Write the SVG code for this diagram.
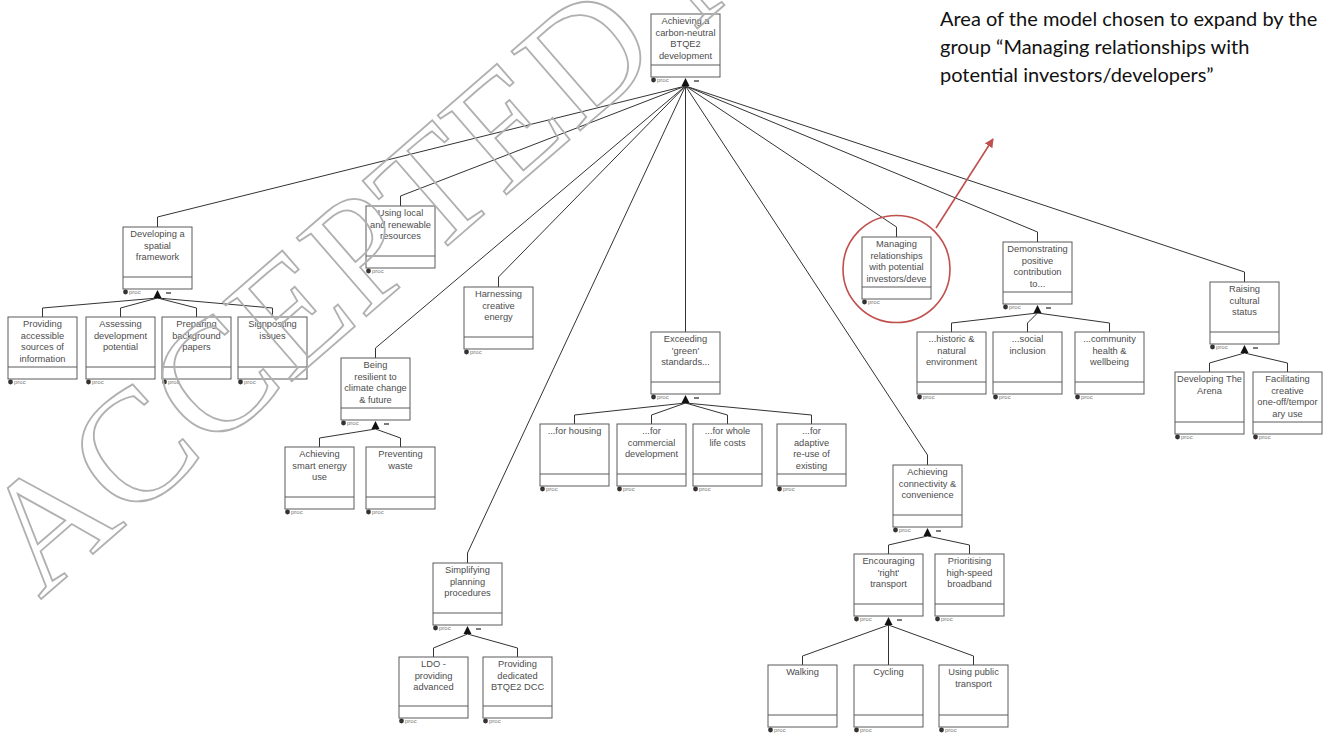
<svg xmlns="http://www.w3.org/2000/svg" width="1324" height="738" viewBox="0 0 1324 738">
  <style>
    .box{fill:#fff;stroke:#5a5a5a;stroke-width:1}
    .sep{stroke:#5a5a5a;stroke-width:1}
    .lbl{font-family:"Liberation Sans",Arial,sans-serif;font-size:9.3px;fill:#4d4d4d;text-anchor:middle}
    .proc{font-family:"Liberation Sans",Arial,sans-serif;font-size:6px;fill:#777}
    .pin{fill:#333}
    .tri{fill:#111}
    .dash{stroke:#222;stroke-width:1.2}
    .conn path{fill:none;stroke:#333;stroke-width:1}
    .note{font-family:Lato,"Liberation Sans",sans-serif;font-size:20px;fill:#111}
    .mark{font-family:"Liberation Serif","Times New Roman",serif;font-size:160px;fill:none;stroke:#b0b0b0;stroke-width:1.8}
  </style>
  <defs>
    <marker id="redHead" viewBox="0 0 10 10" refX="9" refY="5" markerWidth="9" markerHeight="9" markerUnits="userSpaceOnUse" orient="auto">
      <path d="M0 0 L10 5 L0 10 Z" fill="#c0504d"/>
    </marker>
  </defs>
  <rect width="1324" height="738" fill="#fff"/>

  <!-- connectors -->
  <g id="connectors" class="conn">
    <!-- root fan -->
    <path d="M685.5 86 L157.5 217 V227"/>
    <path d="M685.5 86 L400.5 196 V206"/>
    <path d="M685.5 86 L498.5 277 V287"/>
    <path d="M685.5 86 L375.5 348 V358"/>
    <path d="M685.5 86 L467.5 553 V563"/>
    <path d="M685.5 86 V332"/>
    <path d="M685.5 86 L927.5 455 V465"/>
    <path d="M685.5 86 L896.5 227 V237"/>
    <path d="M685.5 86 L1037.5 232 V242"/>
    <path d="M685.5 86 L1244.5 272 V282"/>
    <!-- spatial framework -->
    <path d="M157.5 298 L42.5 308 V317"/>
    <path d="M157.5 298 L120.5 308 V317"/>
    <path d="M157.5 298 L196.5 308 V317"/>
    <path d="M157.5 298 L272.5 308 V317"/>
    <!-- resilience -->
    <path d="M375.5 429 L319.5 438 V447"/>
    <path d="M375.5 429 L400.5 438 V447"/>
    <!-- planning -->
    <path d="M467.5 634 L433.5 648 V657"/>
    <path d="M467.5 634 L517.5 648 V657"/>
    <!-- green standards -->
    <path d="M685.5 403 L574.5 415 V424"/>
    <path d="M685.5 403 L651.5 415 V424"/>
    <path d="M685.5 403 L727.5 415 V424"/>
    <path d="M685.5 403 L811.5 415 V424"/>
    <!-- connectivity -->
    <path d="M927.5 536 L888.5 545 V554"/>
    <path d="M927.5 536 L969.5 545 V554"/>
    <!-- right transport -->
    <path d="M888.5 625 L802.5 656 V665"/>
    <path d="M888.5 625 V665"/>
    <path d="M888.5 625 L973.5 656 V665"/>
    <!-- positive contribution -->
    <path d="M1037.5 313 L951.5 323 V332"/>
    <path d="M1037.5 313 L1027.5 323 V332"/>
    <path d="M1037.5 313 L1109.5 323 V332"/>
    <!-- cultural status -->
    <path d="M1244.5 353 L1209.5 363 V372"/>
    <path d="M1244.5 353 L1287.5 363 V372"/>
  </g>

  <!-- nodes -->
  <g id="n-root" transform="translate(651,14)">
    <rect class="box" width="69" height="63"/><line class="sep" x1="0" y1="51" x2="69" y2="51"/>
    <text class="lbl" y="10"><tspan x="34.5">Achieving a</tspan><tspan x="34.5" dy="11.6">carbon-neutral</tspan><tspan x="34.5" dy="11.6">BTQE2</tspan><tspan x="34.5" dy="11.6">development</tspan></text>
    <circle class="pin" cx="2.5" cy="66" r="2.4"/><text class="proc" x="6" y="68">proc</text>
    <path class="tri" d="M34.5 64 L30.5 72 L38.5 72 Z"/><line class="dash" x1="43" y1="67" x2="48" y2="67"/>
  </g>

  <g id="n-spatial" transform="translate(123,227)">
    <rect class="box" width="69" height="62"/><line class="sep" x1="0" y1="50" x2="69" y2="50"/>
    <text class="lbl" y="10"><tspan x="34.5">Developing a</tspan><tspan x="34.5" dy="11.6">spatial</tspan><tspan x="34.5" dy="11.6">framework</tspan></text>
    <circle class="pin" cx="2.5" cy="65" r="2.4"/><text class="proc" x="6" y="67">proc</text>
    <path class="tri" d="M34.5 63 L30.5 71 L38.5 71 Z"/><line class="dash" x1="43" y1="66" x2="48" y2="66"/>
  </g>
  <g id="n-information" transform="translate(8,317)">
    <rect class="box" width="69" height="62"/><line class="sep" x1="0" y1="50" x2="69" y2="50"/>
    <text class="lbl" y="10"><tspan x="34.5">Providing</tspan><tspan x="34.5" dy="11.6">accessible</tspan><tspan x="34.5" dy="11.6">sources of</tspan><tspan x="34.5" dy="11.6">information</tspan></text>
    <circle class="pin" cx="2.5" cy="65" r="2.4"/><text class="proc" x="6" y="67">proc</text>
  </g>
  <g id="n-assess" transform="translate(86,317)">
    <rect class="box" width="69" height="62"/><line class="sep" x1="0" y1="50" x2="69" y2="50"/>
    <text class="lbl" y="10"><tspan x="34.5">Assessing</tspan><tspan x="34.5" dy="11.6">development</tspan><tspan x="34.5" dy="11.6">potential</tspan></text>
    <circle class="pin" cx="2.5" cy="65" r="2.4"/><text class="proc" x="6" y="67">proc</text>
  </g>
  <g id="n-papers" transform="translate(162,317)">
    <rect class="box" width="69" height="62"/><line class="sep" x1="0" y1="50" x2="69" y2="50"/>
    <text class="lbl" y="10"><tspan x="34.5">Preparing</tspan><tspan x="34.5" dy="11.6">background</tspan><tspan x="34.5" dy="11.6">papers</tspan></text>
    <circle class="pin" cx="2.5" cy="65" r="2.4"/><text class="proc" x="6" y="67">proc</text>
  </g>
  <g id="n-signpost" transform="translate(238,317)">
    <rect class="box" width="69" height="62"/><line class="sep" x1="0" y1="50" x2="69" y2="50"/>
    <text class="lbl" y="10"><tspan x="34.5">Signposting</tspan><tspan x="34.5" dy="11.6">issues</tspan></text>
    <circle class="pin" cx="2.5" cy="65" r="2.4"/><text class="proc" x="6" y="67">proc</text>
  </g>

  <g id="n-local" transform="translate(366,206)">
    <rect class="box" width="69" height="62"/><line class="sep" x1="0" y1="50" x2="69" y2="50"/>
    <text class="lbl" y="10"><tspan x="34.5">Using local</tspan><tspan x="34.5" dy="11.6">and renewable</tspan><tspan x="34.5" dy="11.6">resources</tspan></text>
    <circle class="pin" cx="2.5" cy="65" r="2.4"/><text class="proc" x="6" y="67">proc</text>
  </g>
  <g id="n-creative" transform="translate(464,287)">
    <rect class="box" width="69" height="62"/><line class="sep" x1="0" y1="50" x2="69" y2="50"/>
    <text class="lbl" y="10"><tspan x="34.5">Harnessing</tspan><tspan x="34.5" dy="11.6">creative</tspan><tspan x="34.5" dy="11.6">energy</tspan></text>
    <circle class="pin" cx="2.5" cy="65" r="2.4"/><text class="proc" x="6" y="67">proc</text>
  </g>

  <g id="n-resilient" transform="translate(341,358)">
    <rect class="box" width="69" height="62"/><line class="sep" x1="0" y1="50" x2="69" y2="50"/>
    <text class="lbl" y="10"><tspan x="34.5">Being</tspan><tspan x="34.5" dy="11.6">resilient to</tspan><tspan x="34.5" dy="11.6">climate change</tspan><tspan x="34.5" dy="11.6">&amp; future</tspan></text>
    <circle class="pin" cx="2.5" cy="65" r="2.4"/><text class="proc" x="6" y="67">proc</text>
    <path class="tri" d="M34.5 63 L30.5 71 L38.5 71 Z"/><line class="dash" x1="43" y1="66" x2="48" y2="66"/>
  </g>
  <g id="n-smart" transform="translate(285,447)">
    <rect class="box" width="69" height="62"/><line class="sep" x1="0" y1="50" x2="69" y2="50"/>
    <text class="lbl" y="10"><tspan x="34.5">Achieving</tspan><tspan x="34.5" dy="11.6">smart energy</tspan><tspan x="34.5" dy="11.6">use</tspan></text>
    <circle class="pin" cx="2.5" cy="65" r="2.4"/><text class="proc" x="6" y="67">proc</text>
  </g>
  <g id="n-waste" transform="translate(366,447)">
    <rect class="box" width="69" height="62"/><line class="sep" x1="0" y1="50" x2="69" y2="50"/>
    <text class="lbl" y="10"><tspan x="34.5">Preventing</tspan><tspan x="34.5" dy="11.6">waste</tspan></text>
    <circle class="pin" cx="2.5" cy="65" r="2.4"/><text class="proc" x="6" y="67">proc</text>
  </g>

  <g id="n-planning" transform="translate(433,563)">
    <rect class="box" width="69" height="62"/><line class="sep" x1="0" y1="50" x2="69" y2="50"/>
    <text class="lbl" y="10"><tspan x="34.5">Simplifying</tspan><tspan x="34.5" dy="11.6">planning</tspan><tspan x="34.5" dy="11.6">procedures</tspan></text>
    <circle class="pin" cx="2.5" cy="65" r="2.4"/><text class="proc" x="6" y="67">proc</text>
    <path class="tri" d="M34.5 63 L30.5 71 L38.5 71 Z"/><line class="dash" x1="43" y1="66" x2="48" y2="66"/>
  </g>
  <g id="n-ldo" transform="translate(399,657)">
    <rect class="box" width="69" height="61"/><line class="sep" x1="0" y1="49" x2="69" y2="49"/>
    <text class="lbl" y="10"><tspan x="34.5">LDO -</tspan><tspan x="34.5" dy="11.6">providing</tspan><tspan x="34.5" dy="11.6">advanced</tspan></text>
    <circle class="pin" cx="2.5" cy="64" r="2.4"/><text class="proc" x="6" y="66">proc</text>
  </g>
  <g id="n-dcc" transform="translate(483,657)">
    <rect class="box" width="69" height="61"/><line class="sep" x1="0" y1="49" x2="69" y2="49"/>
    <text class="lbl" y="10"><tspan x="34.5">Providing</tspan><tspan x="34.5" dy="11.6">dedicated</tspan><tspan x="34.5" dy="11.6">BTQE2 DCC</tspan></text>
    <circle class="pin" cx="2.5" cy="64" r="2.4"/><text class="proc" x="6" y="66">proc</text>
  </g>

  <g id="n-green" transform="translate(651,332)">
    <rect class="box" width="69" height="62"/><line class="sep" x1="0" y1="50" x2="69" y2="50"/>
    <text class="lbl" y="10"><tspan x="34.5">Exceeding</tspan><tspan x="34.5" dy="11.6">'green'</tspan><tspan x="34.5" dy="11.6">standards...</tspan></text>
    <circle class="pin" cx="2.5" cy="65" r="2.4"/><text class="proc" x="6" y="67">proc</text>
    <path class="tri" d="M34.5 63 L30.5 71 L38.5 71 Z"/><line class="dash" x1="43" y1="66" x2="48" y2="66"/>
  </g>
  <g id="n-housing" transform="translate(540,424)">
    <rect class="box" width="69" height="62"/><line class="sep" x1="0" y1="50" x2="69" y2="50"/>
    <text class="lbl" y="10"><tspan x="34.5">...for housing</tspan></text>
    <circle class="pin" cx="2.5" cy="65" r="2.4"/><text class="proc" x="6" y="67">proc</text>
  </g>
  <g id="n-commercial" transform="translate(617,424)">
    <rect class="box" width="69" height="62"/><line class="sep" x1="0" y1="50" x2="69" y2="50"/>
    <text class="lbl" y="10"><tspan x="34.5">...for</tspan><tspan x="34.5" dy="11.6">commercial</tspan><tspan x="34.5" dy="11.6">development</tspan></text>
    <circle class="pin" cx="2.5" cy="65" r="2.4"/><text class="proc" x="6" y="67">proc</text>
  </g>
  <g id="n-lifecost" transform="translate(693,424)">
    <rect class="box" width="69" height="62"/><line class="sep" x1="0" y1="50" x2="69" y2="50"/>
    <text class="lbl" y="10"><tspan x="34.5">...for whole</tspan><tspan x="34.5" dy="11.6">life costs</tspan></text>
    <circle class="pin" cx="2.5" cy="65" r="2.4"/><text class="proc" x="6" y="67">proc</text>
  </g>
  <g id="n-reuse" transform="translate(777,424)">
    <rect class="box" width="69" height="62"/><line class="sep" x1="0" y1="50" x2="69" y2="50"/>
    <text class="lbl" y="10"><tspan x="34.5">...for</tspan><tspan x="34.5" dy="11.6">adaptive</tspan><tspan x="34.5" dy="11.6">re-use of</tspan><tspan x="34.5" dy="11.6">existing</tspan></text>
    <circle class="pin" cx="2.5" cy="65" r="2.4"/><text class="proc" x="6" y="67">proc</text>
  </g>

  <g id="n-connect" transform="translate(893,465)">
    <rect class="box" width="69" height="62"/><line class="sep" x1="0" y1="50" x2="69" y2="50"/>
    <text class="lbl" y="10"><tspan x="34.5">Achieving</tspan><tspan x="34.5" dy="11.6">connectivity &amp;</tspan><tspan x="34.5" dy="11.6">convenience</tspan></text>
    <circle class="pin" cx="2.5" cy="65" r="2.4"/><text class="proc" x="6" y="67">proc</text>
    <path class="tri" d="M34.5 63 L30.5 71 L38.5 71 Z"/><line class="dash" x1="43" y1="66" x2="48" y2="66"/>
  </g>
  <g id="n-right" transform="translate(854,554)">
    <rect class="box" width="69" height="62"/><line class="sep" x1="0" y1="50" x2="69" y2="50"/>
    <text class="lbl" y="10"><tspan x="34.5">Encouraging</tspan><tspan x="34.5" dy="11.6">'right'</tspan><tspan x="34.5" dy="11.6">transport</tspan></text>
    <circle class="pin" cx="2.5" cy="65" r="2.4"/><text class="proc" x="6" y="67">proc</text>
    <path class="tri" d="M34.5 63 L30.5 71 L38.5 71 Z"/><line class="dash" x1="43" y1="66" x2="48" y2="66"/>
  </g>
  <g id="n-broadband" transform="translate(935,554)">
    <rect class="box" width="69" height="62"/><line class="sep" x1="0" y1="50" x2="69" y2="50"/>
    <text class="lbl" y="10"><tspan x="34.5">Prioritising</tspan><tspan x="34.5" dy="11.6">high-speed</tspan><tspan x="34.5" dy="11.6">broadband</tspan></text>
    <circle class="pin" cx="2.5" cy="65" r="2.4"/><text class="proc" x="6" y="67">proc</text>
  </g>
  <g id="n-walking" transform="translate(768,665)">
    <rect class="box" width="69" height="62"/><line class="sep" x1="0" y1="50" x2="69" y2="50"/>
    <text class="lbl" y="10"><tspan x="34.5">Walking</tspan></text>
    <circle class="pin" cx="2.5" cy="65" r="2.4"/><text class="proc" x="6" y="67">proc</text>
  </g>
  <g id="n-cycling" transform="translate(854,665)">
    <rect class="box" width="69" height="62"/><line class="sep" x1="0" y1="50" x2="69" y2="50"/>
    <text class="lbl" y="10"><tspan x="34.5">Cycling</tspan></text>
    <circle class="pin" cx="2.5" cy="65" r="2.4"/><text class="proc" x="6" y="67">proc</text>
  </g>
  <g id="n-public" transform="translate(939,665)">
    <rect class="box" width="69" height="62"/><line class="sep" x1="0" y1="50" x2="69" y2="50"/>
    <text class="lbl" y="10"><tspan x="34.5">Using public</tspan><tspan x="34.5" dy="11.6">transport</tspan></text>
    <circle class="pin" cx="2.5" cy="65" r="2.4"/><text class="proc" x="6" y="67">proc</text>
  </g>

  <g id="n-investors" transform="translate(862,237)">
    <rect class="box" width="69" height="62"/><line class="sep" x1="0" y1="50" x2="69" y2="50"/>
    <text class="lbl" y="10"><tspan x="34.5">Managing</tspan><tspan x="34.5" dy="11.6">relationships</tspan><tspan x="34.5" dy="11.6">with potential</tspan><tspan x="34.5" dy="11.6">investors/deve</tspan></text>
    <circle class="pin" cx="2.5" cy="65" r="2.4"/><text class="proc" x="6" y="67">proc</text>
  </g>

  <g id="n-positive" transform="translate(1003,242)">
    <rect class="box" width="69" height="62"/><line class="sep" x1="0" y1="50" x2="69" y2="50"/>
    <text class="lbl" y="10"><tspan x="34.5">Demonstrating</tspan><tspan x="34.5" dy="11.6">positive</tspan><tspan x="34.5" dy="11.6">contribution</tspan><tspan x="34.5" dy="11.6">to...</tspan></text>
    <circle class="pin" cx="2.5" cy="65" r="2.4"/><text class="proc" x="6" y="67">proc</text>
    <path class="tri" d="M34.5 63 L30.5 71 L38.5 71 Z"/><line class="dash" x1="43" y1="66" x2="48" y2="66"/>
  </g>
  <g id="n-historic" transform="translate(917,332)">
    <rect class="box" width="69" height="62"/><line class="sep" x1="0" y1="50" x2="69" y2="50"/>
    <text class="lbl" y="10"><tspan x="34.5">...historic &amp;</tspan><tspan x="34.5" dy="11.6">natural</tspan><tspan x="34.5" dy="11.6">environment</tspan></text>
    <circle class="pin" cx="2.5" cy="65" r="2.4"/><text class="proc" x="6" y="67">proc</text>
  </g>
  <g id="n-social" transform="translate(993,332)">
    <rect class="box" width="69" height="62"/><line class="sep" x1="0" y1="50" x2="69" y2="50"/>
    <text class="lbl" y="10"><tspan x="34.5">...social</tspan><tspan x="34.5" dy="11.6">inclusion</tspan></text>
    <circle class="pin" cx="2.5" cy="65" r="2.4"/><text class="proc" x="6" y="67">proc</text>
  </g>
  <g id="n-community" transform="translate(1075,332)">
    <rect class="box" width="69" height="62"/><line class="sep" x1="0" y1="50" x2="69" y2="50"/>
    <text class="lbl" y="10"><tspan x="34.5">...community</tspan><tspan x="34.5" dy="11.6">health &amp;</tspan><tspan x="34.5" dy="11.6">wellbeing</tspan></text>
    <circle class="pin" cx="2.5" cy="65" r="2.4"/><text class="proc" x="6" y="67">proc</text>
  </g>

  <g id="n-cultural" transform="translate(1210,282)">
    <rect class="box" width="69" height="62"/><line class="sep" x1="0" y1="50" x2="69" y2="50"/>
    <text class="lbl" y="10"><tspan x="34.5">Raising</tspan><tspan x="34.5" dy="11.6">cultural</tspan><tspan x="34.5" dy="11.6">status</tspan></text>
    <circle class="pin" cx="2.5" cy="65" r="2.4"/><text class="proc" x="6" y="67">proc</text>
    <path class="tri" d="M34.5 63 L30.5 71 L38.5 71 Z"/><line class="dash" x1="43" y1="66" x2="48" y2="66"/>
  </g>
  <g id="n-arena" transform="translate(1175,372)">
    <rect class="box" width="69" height="62"/><line class="sep" x1="0" y1="50" x2="69" y2="50"/>
    <text class="lbl" y="10"><tspan x="34.5">Developing The</tspan><tspan x="34.5" dy="11.6">Arena</tspan></text>
    <circle class="pin" cx="2.5" cy="65" r="2.4"/><text class="proc" x="6" y="67">proc</text>
  </g>
  <g id="n-temporary" transform="translate(1253,372)">
    <rect class="box" width="69" height="62"/><line class="sep" x1="0" y1="50" x2="69" y2="50"/>
    <text class="lbl" y="10"><tspan x="34.5">Facilitating</tspan><tspan x="34.5" dy="11.6">creative</tspan><tspan x="34.5" dy="11.6">one-off/tempor</tspan><tspan x="34.5" dy="11.6">ary use</tspan></text>
    <circle class="pin" cx="2.5" cy="65" r="2.4"/><text class="proc" x="6" y="67">proc</text>
  </g>

  <!-- highlighted area and callout -->
  <g id="highlight">
    <circle cx="896.5" cy="269" r="53.5" fill="none" stroke="#c0504d" stroke-width="1.6"/>
    <line x1="936" y1="228" x2="993" y2="139" stroke="#c0504d" stroke-width="1.6" marker-end="url(#redHead)"/>
  </g>
  <g id="callout">
    <text class="note" x="940" y="26">Area of the model chosen to expand by the</text>
    <text class="note" x="940" y="54">group “Managing relationships with</text>
    <text class="note" x="940" y="82">potential investors/developers”</text>
  </g>

  <!-- watermark -->
  <text class="mark" x="40" y="600" transform="rotate(-41 40 600)">ACCEPTED MANUSCRIPT</text>
</svg>
